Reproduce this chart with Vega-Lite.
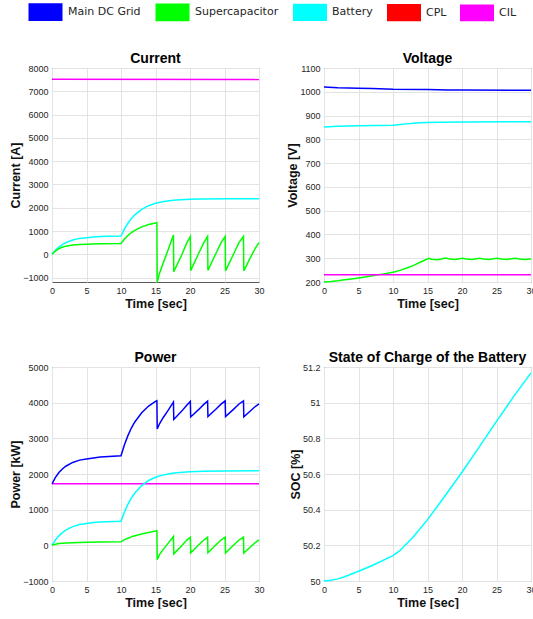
{
  "$schema": "https://vega.github.io/schema/vega-lite/v6.json",
  "background": "white",
  "padding": {"left": 9, "top": 2, "right": 0, "bottom": 0},
  "autosize": {"type": "pad"},
  "datasets": {
    "current": [
      {"s": "CIL", "t": 0, "v": 7515}, {"s": "CIL", "t": 30, "v": 7505},
      {"s": "Battery", "t": 0, "v": 0}, {"s": "Battery", "t": 0.5, "v": 175}, {"s": "Battery", "t": 1, "v": 311}, {"s": "Battery", "t": 1.5, "v": 417}, {"s": "Battery", "t": 2, "v": 499}, {"s": "Battery", "t": 3, "v": 614}, {"s": "Battery", "t": 4, "v": 683}, {"s": "Battery", "t": 5, "v": 715}, {"s": "Battery", "t": 6, "v": 745}, {"s": "Battery", "t": 7, "v": 762}, {"s": "Battery", "t": 8, "v": 772}, {"s": "Battery", "t": 10, "v": 785}, {"s": "Battery", "t": 10.5, "v": 1087}, {"s": "Battery", "t": 11, "v": 1332}, {"s": "Battery", "t": 11.5, "v": 1531}, {"s": "Battery", "t": 12, "v": 1693}, {"s": "Battery", "t": 13, "v": 1929}, {"s": "Battery", "t": 14, "v": 2087}, {"s": "Battery", "t": 15, "v": 2189}, {"s": "Battery", "t": 16, "v": 2258}, {"s": "Battery", "t": 17, "v": 2303}, {"s": "Battery", "t": 18, "v": 2332}, {"s": "Battery", "t": 20, "v": 2366}, {"s": "Battery", "t": 22, "v": 2379}, {"s": "Battery", "t": 25, "v": 2387}, {"s": "Battery", "t": 30, "v": 2390},
      {"s": "Supercapacitor", "t": 0, "v": 0}, {"s": "Supercapacitor", "t": 0.5, "v": 140}, {"s": "Supercapacitor", "t": 1, "v": 240}, {"s": "Supercapacitor", "t": 1.5, "v": 305}, {"s": "Supercapacitor", "t": 2, "v": 350}, {"s": "Supercapacitor", "t": 3, "v": 400}, {"s": "Supercapacitor", "t": 4, "v": 422}, {"s": "Supercapacitor", "t": 5, "v": 435}, {"s": "Supercapacitor", "t": 7, "v": 448}, {"s": "Supercapacitor", "t": 10, "v": 465}, {"s": "Supercapacitor", "t": 10.5, "v": 655}, {"s": "Supercapacitor", "t": 11, "v": 805}, {"s": "Supercapacitor", "t": 11.5, "v": 930}, {"s": "Supercapacitor", "t": 12, "v": 1030}, {"s": "Supercapacitor", "t": 13, "v": 1178}, {"s": "Supercapacitor", "t": 14, "v": 1278}, {"s": "Supercapacitor", "t": 15, "v": 1345}, {"s": "Supercapacitor", "t": 15.2, "v": 1356}, {"s": "Supercapacitor", "t": 15.25, "v": -1190}, {"s": "Supercapacitor", "t": 15.6, "v": -800}, {"s": "Supercapacitor", "t": 16.1, "v": -390}, {"s": "Supercapacitor", "t": 16.9, "v": 250}, {"s": "Supercapacitor", "t": 17.6, "v": 830}, {"s": "Supercapacitor", "t": 17.65, "v": -745}, {"s": "Supercapacitor", "t": 18.8, "v": -30}, {"s": "Supercapacitor", "t": 19.5, "v": 470}, {"s": "Supercapacitor", "t": 20.05, "v": 760}, {"s": "Supercapacitor", "t": 20.1, "v": -700}, {"s": "Supercapacitor", "t": 21.2, "v": 0}, {"s": "Supercapacitor", "t": 22, "v": 500}, {"s": "Supercapacitor", "t": 22.55, "v": 765}, {"s": "Supercapacitor", "t": 22.6, "v": -690}, {"s": "Supercapacitor", "t": 23.7, "v": 0}, {"s": "Supercapacitor", "t": 24.5, "v": 500}, {"s": "Supercapacitor", "t": 25.1, "v": 765}, {"s": "Supercapacitor", "t": 25.15, "v": -710}, {"s": "Supercapacitor", "t": 26.3, "v": 0}, {"s": "Supercapacitor", "t": 27.1, "v": 500}, {"s": "Supercapacitor", "t": 27.75, "v": 770}, {"s": "Supercapacitor", "t": 27.8, "v": -710}, {"s": "Supercapacitor", "t": 28.9, "v": -60}, {"s": "Supercapacitor", "t": 29.5, "v": 280}, {"s": "Supercapacitor", "t": 30, "v": 500}
    ],
    "voltage": [
      {"s": "Battery", "t": 0, "v": 852}, {"s": "Battery", "t": 2, "v": 855}, {"s": "Battery", "t": 5, "v": 857}, {"s": "Battery", "t": 10, "v": 859}, {"s": "Battery", "t": 11, "v": 862}, {"s": "Battery", "t": 12, "v": 865}, {"s": "Battery", "t": 13, "v": 868}, {"s": "Battery", "t": 14, "v": 870}, {"s": "Battery", "t": 15, "v": 871}, {"s": "Battery", "t": 17, "v": 872}, {"s": "Battery", "t": 20, "v": 873}, {"s": "Battery", "t": 30, "v": 874},
      {"s": "Supercapacitor", "t": 0, "v": 200}, {"s": "Supercapacitor", "t": 1, "v": 202}, {"s": "Supercapacitor", "t": 2, "v": 205}, {"s": "Supercapacitor", "t": 3, "v": 209}, {"s": "Supercapacitor", "t": 4, "v": 213}, {"s": "Supercapacitor", "t": 5, "v": 217}, {"s": "Supercapacitor", "t": 6, "v": 221}, {"s": "Supercapacitor", "t": 7, "v": 226}, {"s": "Supercapacitor", "t": 8, "v": 231}, {"s": "Supercapacitor", "t": 9, "v": 236}, {"s": "Supercapacitor", "t": 10, "v": 241}, {"s": "Supercapacitor", "t": 11, "v": 249}, {"s": "Supercapacitor", "t": 12, "v": 259}, {"s": "Supercapacitor", "t": 13, "v": 270}, {"s": "Supercapacitor", "t": 14, "v": 284}, {"s": "Supercapacitor", "t": 15.2, "v": 300}, {"s": "Supercapacitor", "t": 15.6, "v": 296}, {"s": "Supercapacitor", "t": 16.4, "v": 294}, {"s": "Supercapacitor", "t": 17, "v": 297}, {"s": "Supercapacitor", "t": 17.6, "v": 301}, {"s": "Supercapacitor", "t": 18.2, "v": 297}, {"s": "Supercapacitor", "t": 19, "v": 295}, {"s": "Supercapacitor", "t": 20.05, "v": 300}, {"s": "Supercapacitor", "t": 20.6, "v": 297}, {"s": "Supercapacitor", "t": 21.4, "v": 295}, {"s": "Supercapacitor", "t": 22.55, "v": 300}, {"s": "Supercapacitor", "t": 23.1, "v": 297}, {"s": "Supercapacitor", "t": 23.9, "v": 295}, {"s": "Supercapacitor", "t": 25.1, "v": 300}, {"s": "Supercapacitor", "t": 25.7, "v": 297}, {"s": "Supercapacitor", "t": 26.5, "v": 295}, {"s": "Supercapacitor", "t": 27.75, "v": 300}, {"s": "Supercapacitor", "t": 28.3, "v": 297}, {"s": "Supercapacitor", "t": 29.1, "v": 295}, {"s": "Supercapacitor", "t": 30, "v": 297},
      {"s": "CIL", "t": 0, "v": 230}, {"s": "CIL", "t": 30, "v": 230},
      {"s": "Main DC Grid", "t": 0, "v": 1020}, {"s": "Main DC Grid", "t": 2, "v": 1017}, {"s": "Main DC Grid", "t": 5, "v": 1015}, {"s": "Main DC Grid", "t": 7, "v": 1014}, {"s": "Main DC Grid", "t": 9, "v": 1012}, {"s": "Main DC Grid", "t": 10, "v": 1011}, {"s": "Main DC Grid", "t": 15, "v": 1010}, {"s": "Main DC Grid", "t": 18, "v": 1008}, {"s": "Main DC Grid", "t": 20, "v": 1007}, {"s": "Main DC Grid", "t": 30, "v": 1006}
    ],
    "power": [
      {"s": "CIL", "t": 0, "v": 1725}, {"s": "CIL", "t": 30, "v": 1725},
      {"s": "Battery", "t": 0, "v": 0}, {"s": "Battery", "t": 0.5, "v": 149}, {"s": "Battery", "t": 1, "v": 265}, {"s": "Battery", "t": 1.5, "v": 356}, {"s": "Battery", "t": 2, "v": 426}, {"s": "Battery", "t": 3, "v": 524}, {"s": "Battery", "t": 4, "v": 584}, {"s": "Battery", "t": 5, "v": 613}, {"s": "Battery", "t": 6, "v": 639}, {"s": "Battery", "t": 7, "v": 653}, {"s": "Battery", "t": 8, "v": 662}, {"s": "Battery", "t": 10, "v": 675}, {"s": "Battery", "t": 10.5, "v": 937}, {"s": "Battery", "t": 11, "v": 1151}, {"s": "Battery", "t": 11.5, "v": 1326}, {"s": "Battery", "t": 12, "v": 1468}, {"s": "Battery", "t": 13, "v": 1676}, {"s": "Battery", "t": 14, "v": 1818}, {"s": "Battery", "t": 15, "v": 1909}, {"s": "Battery", "t": 16, "v": 1969}, {"s": "Battery", "t": 17, "v": 2008}, {"s": "Battery", "t": 18, "v": 2036}, {"s": "Battery", "t": 20, "v": 2066}, {"s": "Battery", "t": 22, "v": 2077}, {"s": "Battery", "t": 25, "v": 2086}, {"s": "Battery", "t": 30, "v": 2089},
      {"s": "Supercapacitor", "t": 0, "v": 0}, {"s": "Supercapacitor", "t": 0.5, "v": 30}, {"s": "Supercapacitor", "t": 1, "v": 50}, {"s": "Supercapacitor", "t": 1.5, "v": 60}, {"s": "Supercapacitor", "t": 2, "v": 67}, {"s": "Supercapacitor", "t": 3, "v": 75}, {"s": "Supercapacitor", "t": 4, "v": 80}, {"s": "Supercapacitor", "t": 5, "v": 84}, {"s": "Supercapacitor", "t": 7, "v": 90}, {"s": "Supercapacitor", "t": 10, "v": 100}, {"s": "Supercapacitor", "t": 10.5, "v": 160}, {"s": "Supercapacitor", "t": 11, "v": 200}, {"s": "Supercapacitor", "t": 11.5, "v": 238}, {"s": "Supercapacitor", "t": 12, "v": 267}, {"s": "Supercapacitor", "t": 13, "v": 318}, {"s": "Supercapacitor", "t": 14, "v": 362}, {"s": "Supercapacitor", "t": 15, "v": 400}, {"s": "Supercapacitor", "t": 15.2, "v": 410}, {"s": "Supercapacitor", "t": 15.25, "v": -400}, {"s": "Supercapacitor", "t": 15.6, "v": -255}, {"s": "Supercapacitor", "t": 16.1, "v": -120}, {"s": "Supercapacitor", "t": 16.9, "v": 75}, {"s": "Supercapacitor", "t": 17.6, "v": 250}, {"s": "Supercapacitor", "t": 17.65, "v": -240}, {"s": "Supercapacitor", "t": 18.8, "v": -10}, {"s": "Supercapacitor", "t": 19.5, "v": 140}, {"s": "Supercapacitor", "t": 20.05, "v": 228}, {"s": "Supercapacitor", "t": 20.1, "v": -215}, {"s": "Supercapacitor", "t": 21.2, "v": 0}, {"s": "Supercapacitor", "t": 22, "v": 150}, {"s": "Supercapacitor", "t": 22.55, "v": 230}, {"s": "Supercapacitor", "t": 22.6, "v": -210}, {"s": "Supercapacitor", "t": 23.7, "v": 0}, {"s": "Supercapacitor", "t": 24.5, "v": 150}, {"s": "Supercapacitor", "t": 25.1, "v": 230}, {"s": "Supercapacitor", "t": 25.15, "v": -215}, {"s": "Supercapacitor", "t": 26.3, "v": 0}, {"s": "Supercapacitor", "t": 27.1, "v": 150}, {"s": "Supercapacitor", "t": 27.75, "v": 232}, {"s": "Supercapacitor", "t": 27.8, "v": -215}, {"s": "Supercapacitor", "t": 28.9, "v": -20}, {"s": "Supercapacitor", "t": 29.5, "v": 85}, {"s": "Supercapacitor", "t": 30, "v": 150},
      {"s": "Main DC Grid", "t": 0, "v": 1725}, {"s": "Main DC Grid", "t": 0.5, "v": 1904}, {"s": "Main DC Grid", "t": 1, "v": 2040}, {"s": "Main DC Grid", "t": 1.5, "v": 2141}, {"s": "Main DC Grid", "t": 2, "v": 2218}, {"s": "Main DC Grid", "t": 3, "v": 2324}, {"s": "Main DC Grid", "t": 4, "v": 2389}, {"s": "Main DC Grid", "t": 5, "v": 2422}, {"s": "Main DC Grid", "t": 7, "v": 2475}, {"s": "Main DC Grid", "t": 10, "v": 2510}, {"s": "Main DC Grid", "t": 10.5, "v": 2822}, {"s": "Main DC Grid", "t": 11, "v": 3076}, {"s": "Main DC Grid", "t": 11.5, "v": 3289}, {"s": "Main DC Grid", "t": 12, "v": 3460}, {"s": "Main DC Grid", "t": 13, "v": 3719}, {"s": "Main DC Grid", "t": 14, "v": 3905}, {"s": "Main DC Grid", "t": 15, "v": 4034}, {"s": "Main DC Grid", "t": 15.2, "v": 4056}, {"s": "Main DC Grid", "t": 15.25, "v": 3260}, {"s": "Main DC Grid", "t": 15.6, "v": 3415}, {"s": "Main DC Grid", "t": 16.1, "v": 3578}, {"s": "Main DC Grid", "t": 16.9, "v": 3804}, {"s": "Main DC Grid", "t": 17.6, "v": 4020}, {"s": "Main DC Grid", "t": 17.65, "v": 3530}, {"s": "Main DC Grid", "t": 18.8, "v": 3763}, {"s": "Main DC Grid", "t": 19.5, "v": 3923}, {"s": "Main DC Grid", "t": 20.05, "v": 4035}, {"s": "Main DC Grid", "t": 20.1, "v": 3600}, {"s": "Main DC Grid", "t": 21.2, "v": 3797}, {"s": "Main DC Grid", "t": 22, "v": 3952}, {"s": "Main DC Grid", "t": 22.55, "v": 4045}, {"s": "Main DC Grid", "t": 22.6, "v": 3610}, {"s": "Main DC Grid", "t": 23.7, "v": 3807}, {"s": "Main DC Grid", "t": 24.5, "v": 3959}, {"s": "Main DC Grid", "t": 25.1, "v": 4050}, {"s": "Main DC Grid", "t": 25.15, "v": 3610}, {"s": "Main DC Grid", "t": 26.3, "v": 3812}, {"s": "Main DC Grid", "t": 27.1, "v": 3963}, {"s": "Main DC Grid", "t": 27.75, "v": 4052}, {"s": "Main DC Grid", "t": 27.8, "v": 3605}, {"s": "Main DC Grid", "t": 28.9, "v": 3794}, {"s": "Main DC Grid", "t": 29.5, "v": 3899}, {"s": "Main DC Grid", "t": 30, "v": 3964}
    ],
    "soc": [
      {"s": "Battery", "t": 0, "v": 50}, {"s": "Battery", "t": 1, "v": 50.004}, {"s": "Battery", "t": 2, "v": 50.012}, {"s": "Battery", "t": 3, "v": 50.024}, {"s": "Battery", "t": 5, "v": 50.055}, {"s": "Battery", "t": 7, "v": 50.087}, {"s": "Battery", "t": 10, "v": 50.142}, {"s": "Battery", "t": 11, "v": 50.17}, {"s": "Battery", "t": 12, "v": 50.21}, {"s": "Battery", "t": 13, "v": 50.25}, {"s": "Battery", "t": 15, "v": 50.344}, {"s": "Battery", "t": 17.5, "v": 50.475}, {"s": "Battery", "t": 20, "v": 50.61}, {"s": "Battery", "t": 22.5, "v": 50.752}, {"s": "Battery", "t": 25, "v": 50.895}, {"s": "Battery", "t": 27.5, "v": 51.035}, {"s": "Battery", "t": 30, "v": 51.167}
    ]
  },
  "config": {
    "view": {"stroke": "#5a5a5a", "strokeWidth": 1},
    "axis": {
      "grid": true, "gridColor": "#e3e3e3", "gridWidth": 1,
      "domain": false, "ticks": false,
      "labelFont": "Liberation Sans", "labelFontSize": 9, "labelColor": "#262626",
      "labelFlush": false, "labelOverlap": false, "labelPadding": 4,
      "titleFont": "Liberation Sans", "titleFontSize": 12.5, "titleFontWeight": "bold", "titleColor": "#111111"
    },
    "axisX": {"titlePadding": 2},
    "axisY": {"titlePadding": 0},
    "title": {"font": "Liberation Sans", "fontSize": 14, "fontWeight": "bold", "color": "#000000", "frame": "group", "anchor": "middle", "offset": -2, "baseline": "alphabetic"},
    "legend": {
      "orient": "none", "legendX": -16.5, "legendY": -66, "direction": "horizontal",
      "symbolType": "M-2,-0.91H2M-2,-0.81H2M-2,-0.71H2M-2,-0.61H2M-2,-0.51H2M-2,-0.41H2M-2,-0.31H2M-2,-0.21H2M-2,-0.11H2M-2,-0.01H2M-2,0.09H2M-2,0.19H2M-2,0.29H2M-2,0.39H2M-2,0.49H2M-2,0.59H2M-2,0.69H2M-2,0.79H2M-2,0.91H2",
      "symbolSize": 289,
      "labelFont": "DejaVu Sans", "labelFontSize": 11, "labelColor": "#262626",
      "labelOffset": 12.5, "columnPadding": 10, "padding": 0
    },
    "line": {"strokeWidth": 1.5, "clip": true}
  },
  "columns": 2,
  "spacing": {"row": 85, "column": 65},
  "bounds": "flush",
  "concat": [
    {
      "title": "Current",
      "width": 207, "height": 214,
      "data": {"name": "current"},
      "mark": {"type": "line"},
      "encoding": {
        "x": {"field": "t", "type": "quantitative", "scale": {"domain": [0, 30], "nice": false}, "axis": {"values": [0, 5, 10, 15, 20, 25, 30], "title": "Time [sec]"}},
        "y": {"field": "v", "type": "quantitative", "scale": {"domain": [-1190, 8000], "nice": false, "zero": false}, "axis": {"values": [-1000, 0, 1000, 2000, 3000, 4000, 5000, 6000, 7000, 8000], "format": "d", "title": "Current [A]"}},
        "color": {
          "field": "s", "type": "nominal",
          "scale": {"domain": ["Main DC Grid", "Supercapacitor", "Battery", "CPL", "CIL"], "range": ["#0000ff", "#00ff00", "#00ffff", "#ff0000", "#ff00ff"]},
          "legend": {"title": null}
        }
      }
    },
    {
      "title": "Voltage",
      "width": 207, "height": 214,
      "data": {"name": "voltage"},
      "mark": {"type": "line"},
      "encoding": {
        "x": {"field": "t", "type": "quantitative", "scale": {"domain": [0, 30], "nice": false}, "axis": {"values": [0, 5, 10, 15, 20, 25, 30], "title": "Time [sec]"}},
        "y": {"field": "v", "type": "quantitative", "scale": {"domain": [200, 1100], "nice": false, "zero": false}, "axis": {"values": [200, 300, 400, 500, 600, 700, 800, 900, 1000, 1100], "format": "d", "title": "Voltage [V]"}},
        "color": {"field": "s", "type": "nominal", "legend": {"title": null}},
        "strokeWidth": {"field": "s", "type": "nominal", "scale": {"domain": ["Main DC Grid", "Supercapacitor", "Battery", "CPL", "CIL"], "range": [2.5, 1.5, 1.5, 1.5, 1.5]}, "legend": null}
      }
    },
    {
      "title": "Power",
      "width": 207, "height": 214,
      "data": {"name": "power"},
      "mark": {"type": "line"},
      "encoding": {
        "x": {"field": "t", "type": "quantitative", "scale": {"domain": [0, 30], "nice": false}, "axis": {"values": [0, 5, 10, 15, 20, 25, 30], "title": "Time [sec]"}},
        "y": {"field": "v", "type": "quantitative", "scale": {"domain": [-1000, 5000], "nice": false, "zero": false}, "axis": {"values": [-1000, 0, 1000, 2000, 3000, 4000, 5000], "format": "d", "title": "Power [kW]"}},
        "color": {"field": "s", "type": "nominal", "legend": {"title": null}}
      }
    },
    {
      "title": "State of Charge of the Battery",
      "width": 207, "height": 214,
      "data": {"name": "soc"},
      "mark": {"type": "line"},
      "encoding": {
        "x": {"field": "t", "type": "quantitative", "scale": {"domain": [0, 30], "nice": false}, "axis": {"values": [0, 5, 10, 15, 20, 25, 30], "title": "Time [sec]"}},
        "y": {"field": "v", "type": "quantitative", "scale": {"domain": [50, 51.2], "nice": false, "zero": false}, "axis": {"values": [50, 50.2, 50.4, 50.6, 50.8, 51, 51.2], "format": "~g", "title": "SOC [%]"}},
        "color": {"field": "s", "type": "nominal", "legend": {"title": null}}
      }
    }
  ]
}
